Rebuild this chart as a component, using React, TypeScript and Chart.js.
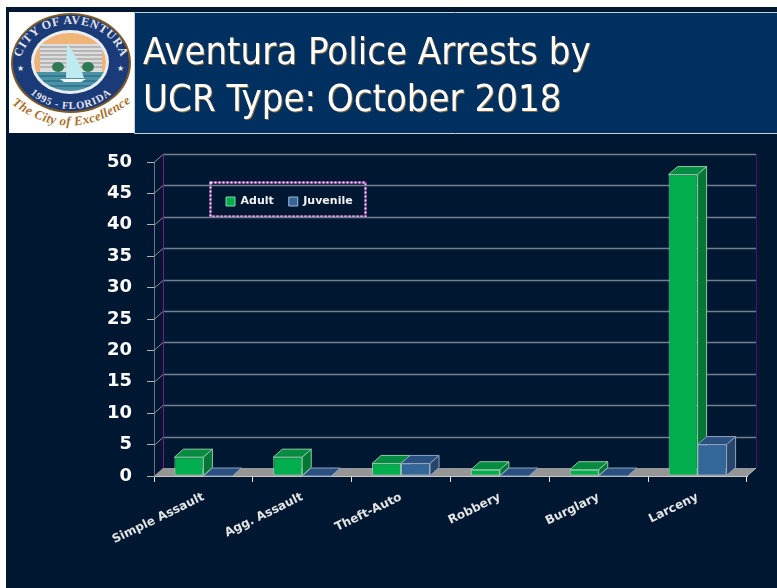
import React, { useEffect, useRef } from "react";
import { Chart, registerables } from "chart.js";

Chart.register(...registerables);

const categories = ["Simple Assault", "Agg. Assault", "Theft-Auto", "Robbery", "Burglary", "Larceny"];
const adult = [3, 3, 2, 1, 1, 48];
const juvenile = [0, 0, 2, 0, 0, 5];
const titleLines = ["Aventura Police Arrests by", "UCR Type: October 2018"];

const PAGE = "#001731";
const DX = 9;
const DY = 8;

const faces = [
  { top: "#058c40", side: "#047636", edge: "#8fc9a6" },
  { top: "#2a5080", side: "#28466c", edge: "#8ba3c0" },
];

function poly(ctx: CanvasRenderingContext2D, pts: number[][], fill: string | null, stroke?: string) {
  ctx.beginPath();
  pts.forEach((p, i) => (i ? ctx.lineTo(p[0], p[1]) : ctx.moveTo(p[0], p[1])));
  ctx.closePath();
  if (fill) {
    ctx.fillStyle = fill;
    ctx.fill();
  }
  if (stroke) {
    ctx.strokeStyle = stroke;
    ctx.lineWidth = 1;
    ctx.stroke();
  }
}

const slidePlugin = {
  id: "slide",
  afterLayout(chart: any) {
    const t = chart.titleBlock;
    if (t) {
      t.left = 143;
      t.right = 777;
      t.top = 0;
      t.bottom = t.height;
      if (!t.__wrapped) {
        const orig = t.draw.bind(t);
        t.draw = () => {
          const c = chart.ctx;
          c.save();
          c.shadowColor = "rgba(170,120,50,0.75)";
          c.shadowOffsetX = 1;
          c.shadowOffsetY = 1;
          c.shadowBlur = 0.5;
          orig();
          c.restore();
        };
        t.__wrapped = true;
      }
    }
    const l = chart.legend;
    if (l) {
      const h = l.height;
      l.left = 211;
      l.right = 211 + 500;
      l.top = 199 - h / 2;
      l.bottom = l.top + h;
    }
  },
  beforeDraw(chart: any) {
    const c = chart.ctx as CanvasRenderingContext2D;
    c.save();
    c.fillStyle = PAGE;
    c.fillRect(6, 7, 771, 581);
    c.fillStyle = "#003060";
    c.fillRect(134, 13, 643, 120);
    c.strokeStyle = "#c4d2dc";
    c.lineWidth = 1;
    c.beginPath();
    c.moveTo(777, 12.5);
    c.lineTo(134.5, 12.5);
    c.lineTo(134.5, 133.5);
    c.lineTo(777, 133.5);
    c.stroke();
    // legend frame: purple line with pale dots on it
    c.strokeStyle = "#8a2a9c";
    c.lineWidth = 2;
    c.strokeRect(210.5, 182.5, 155, 34);
    c.setLineDash([2, 2]);
    c.strokeStyle = "#f6e2f8";
    c.strokeRect(210.5, 182.5, 155, 34);
    c.restore();
  },
  beforeDatasetsDraw(chart: any) {
    const c = chart.ctx as CanvasRenderingContext2D;
    const { left, right, top, bottom } = chart.chartArea;
    const y = chart.scales.y;
    c.save();
    // grid on the back wall and its return on the side wall
    y.ticks.forEach((t: any) => {
      const py = Math.round(y.getPixelForValue(t.value)) + 0.5;
      if (t.value === 0) return;
      c.lineWidth = 1.5;
      c.strokeStyle = "#737f8e";
      c.beginPath();
      c.moveTo(left + DX, py - DY);
      c.lineTo(right + DX, py - DY);
      c.stroke();
      c.lineWidth = 1;
      c.strokeStyle = "#8d8d9c";
      c.beginPath();
      c.moveTo(left, py);
      c.lineTo(left + DX, py - DY);
      c.stroke();
    });
    // walls
    c.lineWidth = 1;
    c.strokeStyle = "#7a1a8c";
    c.beginPath();
    c.moveTo(left + DX + 0.5, top - DY);
    c.lineTo(left + DX + 0.5, bottom - DY);
    c.stroke();
    c.strokeStyle = "#4a1070";
    c.beginPath();
    c.moveTo(right + DX + 0.5, top - DY);
    c.lineTo(right + DX + 0.5, bottom - DY);
    c.stroke();
    // floor
    poly(c, [[left, bottom], [left + DX, bottom - DY], [right + DX, bottom - DY], [right, bottom]], "#969696");
    c.strokeStyle = "#c8c8c8";
    c.beginPath();
    c.moveTo(right, bottom);
    c.lineTo(right + DX, bottom - DY);
    c.stroke();
    // depth faces of the bars, back to front
    [0, 1].forEach((ds) => {
      const f = faces[ds];
      chart.getDatasetMeta(ds).data.forEach((b: any) => {
        const x0 = b.x - b.width / 2;
        const x1 = b.x + b.width / 2;
        poly(c, [[x0, b.y], [x0 + DX, b.y - DY], [x1 + DX, b.y - DY], [x1, b.y]], f.top, f.edge);
        if (b.base - b.y > 0.5) {
          poly(c, [[x1, b.y], [x1 + DX, b.y - DY], [x1 + DX, b.base - DY], [x1, b.base]], f.side, f.edge);
        }
      });
    });
    c.restore();
  },
};

function Seal() {
  return (
    <svg
      viewBox="9 12 125 121"
      width={125}
      height={121}
      style={{ position: "absolute", left: 9, top: 12, background: "#fff" }}
    >
      <defs>
        <path id="sealTop" d="M 20 66 A 51 42 0 1 1 122 66" />
        <path id="sealBottom" d="M 17 64 A 54 45 0 0 0 125 64" />
        <path id="motto" d="M 9 102 Q 70 150 134 100" />
        <clipPath id="scene">
          <ellipse cx="70" cy="62" rx="36" ry="29" />
        </clipPath>
      </defs>
      <ellipse cx="71" cy="63" rx="60" ry="50" fill="#7a5a2a" />
      <ellipse cx="71" cy="63" rx="58" ry="48" fill="#1b3a78" />
      <ellipse cx="70" cy="62" rx="39" ry="32" fill="#e8eef2" />
      <g clipPath="url(#scene)">
        <rect x="30" y="30" width="82" height="44" fill="#f0b478" />
        <rect x="40" y="44" width="62" height="29" fill="#dcdcdc" />
        <path d="M40 47H102M40 51H102M40 55H102M40 59H102M40 63H102M40 67H102" stroke="#8f8f8f" strokeWidth="1.2" />
        <rect x="30" y="72" width="82" height="24" fill="#4d93a8" />
        <path d="M34 76H108M30 81H112M36 86H106" stroke="#1f5f7c" strokeWidth="1.2" />
        <path d="M67 44 C76 54 80 66 84 78 L66 78 Z" fill="#bfeaf0" />
        <path d="M60 79H86L81 82H64Z" fill="#f4f4f4" />
        <ellipse cx="58" cy="67" rx="6" ry="5" fill="#2f7a55" />
        <ellipse cx="88" cy="67" rx="6" ry="5" fill="#2f7a55" />
      </g>
      <text fontFamily="Liberation Serif" fontWeight="bold" fontSize="12" fill="#e6e6ef" letterSpacing="0.7">
        <textPath href="#sealTop" startOffset="50%" textAnchor="middle">CITY OF AVENTURA</textPath>
      </text>
      <text fontFamily="Liberation Serif" fontWeight="bold" fontSize="10.5" fill="#e6e6ef" letterSpacing="0.8">
        <textPath href="#sealBottom" startOffset="50%" textAnchor="middle">1995 - FLORIDA</textPath>
      </text>
      <text x="17" y="71" fontSize="8" fill="#e6e6ef">★</text>
      <text x="117" y="71" fontSize="8" fill="#e6e6ef">★</text>
      <text fontFamily="Liberation Serif" fontStyle="italic" fontWeight="bold" fontSize="13" fill="#a9702c" letterSpacing="0.4">
        <textPath href="#motto" startOffset="50%" textAnchor="middle">The City of Excellence</textPath>
      </text>
    </svg>
  );
}

export default function App() {
  const ref = useRef<HTMLCanvasElement | null>(null);

  useEffect(() => {
    if (!ref.current) return;
    const chart = new Chart(ref.current, {
      type: "bar",
      data: {
        labels: categories,
        datasets: [
          {
            label: "Adult",
            data: adult,
            backgroundColor: "#00ae4d",
            borderColor: "#8fd0a8",
            borderWidth: 1,
            borderSkipped: false,
            categoryPercentage: 0.587,
            barPercentage: 1,
          },
          {
            label: "Juvenile",
            data: juvenile,
            backgroundColor: "#336699",
            borderColor: "#a4b6cf",
            borderWidth: 1,
            borderSkipped: false,
            categoryPercentage: 0.587,
            barPercentage: 1,
          },
        ],
      },
      options: {
        responsive: false,
        animation: false,
        devicePixelRatio: 1,
        layout: { padding: { left: 0, right: 30, top: 0, bottom: 0 } },
        plugins: {
          title: {
            display: true,
            text: titleLines,
            align: "start",
            color: "#ffffff",
            font: { family: "DejaVu Sans Condensed, DejaVu Sans", size: 38, weight: "normal", lineHeight: 1.237 },
            padding: { top: 31, bottom: 1 },
          },
          legend: {
            display: true,
            position: "top",
            align: "start",
            labels: {
              color: "#f2f2f2",
              font: { family: "DejaVu Sans", size: 11, weight: "bold" },
              boxWidth: 9,
              boxHeight: 9,
              padding: 15,
            },
          },
          tooltip: { enabled: false },
        },
        scales: {
          x: {
            afterFit: (s: any) => {
              s.height = 112;
            },
            grid: {
              offset: true,
              drawOnChartArea: false,
              color: "#e8e8e8",
              tickLength: 6,
            },
            border: { color: "#c8c8c8" },
            ticks: {
              autoSkip: false,
              minRotation: 26,
              maxRotation: 26,
              padding: 8,
              color: "#e4e4e4",
              font: { family: "DejaVu Sans", size: 12, weight: "bold" },
            },
          },
          y: {
            min: 0,
            max: 50,
            afterFit: (s: any) => {
              s.width = 154;
            },
            grid: { drawOnChartArea: false, color: "#b4b4b4", tickLength: 7 },
            border: { color: "#6f6f90" },
            ticks: {
              stepSize: 5,
              padding: 15,
              color: "#ffffff",
              font: { family: "DejaVu Sans", size: 18, weight: "bold" },
            },
          },
        },
      } as any,
      plugins: [slidePlugin as any],
    });
    return () => chart.destroy();
  }, []);

  return (
    <div style={{ position: "fixed", left: 0, top: 0, width: 777, height: 588, background: "#fff", filter: "blur(0.4px)" }}>
      <canvas ref={ref} width={777} height={588} style={{ display: "block" }} />
      <Seal />
    </div>
  );
}
